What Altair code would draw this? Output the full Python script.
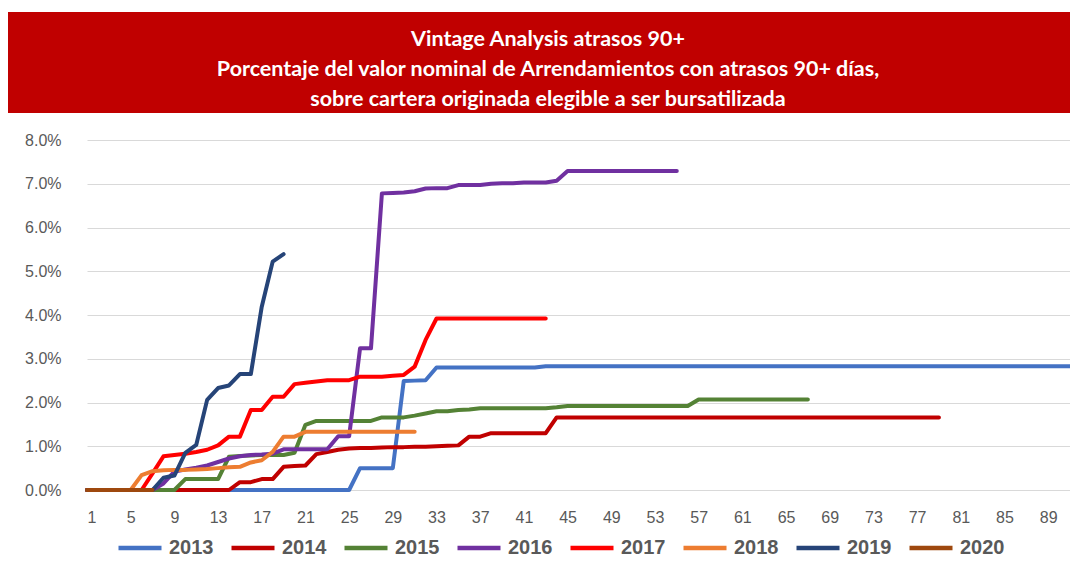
import altair as alt
import pandas as pd

# ---- data (percent values) ----
years = ["2013", "2014", "2015", "2016", "2017", "2018", "2019", "2020"]
colors = ["#4472C4", "#C00000", "#548235", "#7030A0", "#FF0000", "#ED7D31", "#264478", "#9E480E"]

v2013 = [0.0] * 25 + [0.5] * 4 + [2.49, 2.50, 2.51] + [2.80] * 10 + [2.83] * 49
v2014 = ([0.0] * 14
         + [0.18, 0.18, 0.25, 0.25, 0.53, 0.55, 0.56, 0.82, 0.87, 0.92, 0.95, 0.96,
            0.96, 0.97, 0.98, 0.98, 0.99, 0.99, 1.00, 1.01, 1.02, 1.22, 1.22]
         + [1.30] * 6 + [1.66] * 36)
v2015 = ([0.0] * 9 + [0.25] * 4
         + [0.76, 0.78, 0.79, 0.80, 0.80, 0.80, 0.85, 1.49]
         + [1.58] * 6 + [1.66] * 3
         + [1.70, 1.75, 1.80, 1.80, 1.83, 1.84]
         + [1.87] * 7 + [1.89] + [1.92] * 12 + [2.07] * 11)
v2016 = ([0.0] * 7
         + [0.15, 0.42, 0.47, 0.51, 0.56, 0.64, 0.72, 0.77, 0.80, 0.81, 0.83, 0.93,
            0.93, 0.93, 0.93, 0.93, 1.23, 1.23, 3.24, 3.24, 6.78, 6.79, 6.80, 6.83,
            6.89, 6.90, 6.90, 6.97, 6.97, 6.97, 7.00, 7.01, 7.01, 7.03, 7.03, 7.03, 7.07]
         + [7.29] * 11)
v2017 = ([0.0] * 6
         + [0.38, 0.77, 0.80, 0.83, 0.87, 0.92, 1.02, 1.22, 1.22, 1.83, 1.83, 2.13,
            2.13, 2.42, 2.45, 2.48, 2.51, 2.51, 2.51, 2.59, 2.59, 2.59, 2.61, 2.63,
            2.82, 3.43]
         + [3.92] * 11)
v2018 = ([0.0] * 5
         + [0.34, 0.43, 0.45, 0.46, 0.46, 0.47, 0.48, 0.50, 0.52, 0.53, 0.63, 0.68,
            0.87, 1.22, 1.22]
         + [1.33] * 11)
v2019 = [0.0] * 7 + [0.28, 0.33, 0.85, 1.03, 2.06, 2.33, 2.39, 2.65, 2.65, 4.19, 5.22, 5.39]
v2020 = [0.0] * 7

series = [v2013, v2014, v2015, v2016, v2017, v2018, v2019, v2020]

x_ticks = list(range(1, 90, 4))
y_ticks = [0.0, 0.01, 0.02, 0.03, 0.04, 0.05, 0.06, 0.07, 0.08]

title_lines = [
    "Vintage Analysis atrasos 90+",
    "Porcentaje del valor nominal de Arrendamientos con atrasos 90+ días,",
    "sobre cartera originada elegible a ser bursatilizada",
]

rows = []
for yr, vals in zip(years, series):
    for i, v in enumerate(vals):
        rows.append({"Mes": i + 1, "Vintage": yr, "Valor": v / 100.0})
df = pd.DataFrame(rows)
one = pd.DataFrame({"k": [0]})

W, H = 983, 350
LABEL_FONT = "Liberation Sans"
TITLE_FONT = "Lato"

lines = alt.Chart(df).mark_line(strokeWidth=4, strokeCap="round", strokeJoin="round").encode(
    x=alt.X("Mes:Q",
            scale=alt.Scale(domain=[1, 91], nice=False, zero=False),
            axis=alt.Axis(values=x_ticks, format="d", grid=False, domain=False, ticks=False,
                          labelPadding=19, labelFontSize=16, labelColor="#595959",
                          labelFont=LABEL_FONT, title=None)),
    y=alt.Y("Valor:Q",
            scale=alt.Scale(domain=[0, 0.08], nice=False),
            axis=alt.Axis(values=y_ticks, format=".1%", grid=True, gridColor="#D9D9D9",
                          gridWidth=1.2, domain=False, ticks=False, labelPadding=26,
                          labelFontSize=16, labelColor="#595959", labelFont=LABEL_FONT,
                          title=None)),
    color=alt.Color("Vintage:N",
                    scale=alt.Scale(domain=years, range=colors),
                    legend=alt.Legend(orient="none", legendX=29, legendY=384,
                                      direction="horizontal", columns=8,
                                      symbolType="stroke", symbolSize=1849,
                                      symbolStrokeWidth=4.5, labelFontSize=20,
                                      labelFontWeight="bold", labelColor="#595959",
                                      labelFont=LABEL_FONT, labelOffset=5,
                                      columnPadding=8, title=None)),
)

box = alt.Chart(one).mark_rect(color="#C00000").encode(
    x=alt.value(-79), x2=alt.value(983), y=alt.value(-128), y2=alt.value(-27))

texts = []
for i, t in enumerate(title_lines):
    texts.append(
        alt.Chart(one).mark_text(font=TITLE_FONT, fontSize=21.5, fontWeight="bold",
                                 color="white", align="center", baseline="middle").encode(
            x=alt.value(461), y=alt.value(-100 + 30 * i), text=alt.value(t)))

chart = alt.layer(box, *texts, lines).properties(
    width=W, height=H,
    autosize=alt.AutoSizeParams(type="none"),
    padding={"left": 79, "top": 132, "right": 0, "bottom": 68},
).configure_view(stroke=None)

chart.save("out.html", embed_options={"renderer": "svg", "actions": False})
